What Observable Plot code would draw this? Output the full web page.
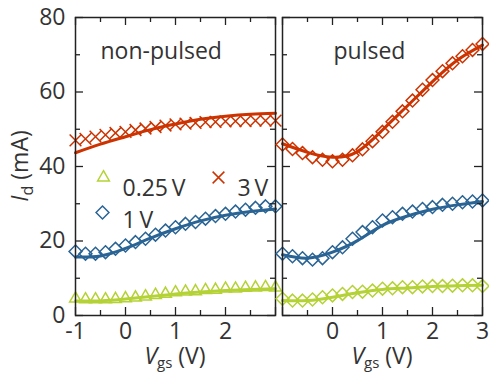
<!DOCTYPE html>
<html><head><meta charset="utf-8">
<script src="https://cdn.jsdelivr.net/npm/d3@7"></script>
<script src="https://cdn.jsdelivr.net/npm/@observablehq/plot@0.6"></script>
<style>
body{margin:0;background:#fff;}
#chart{position:relative;width:489px;height:375px;display:flex;}
#chart svg{flex:none;max-width:none !important;overflow:visible !important;background:transparent !important;}
</style></head><body><div id="chart"></div>
<script>
// ---- data ----
const vgs = [-1,-0.8,-0.6,-0.4,-0.2,0,0.2,0.4,0.6,0.8,1,1.2,1.4,1.6,1.8,2,2.2,2.4,2.6,2.8,3];
const fitV = [-1,-0.5,0,0.5,1,1.5,2,2.5,3];

// non-pulsed measured
const np025 = [4.5,4.3,4.3,4.3,4.4,4.6,4.8,5.1,5.5,5.8,6.2,6.4,6.5,6.8,6.9,7.2,7.2,7.4,7.5,7.6,7.5];
const np1   = [17.2,16.6,16.6,17.0,17.9,18.8,19.7,20.6,21.7,22.8,23.7,24.6,25.1,26.0,26.7,27.3,27.9,28.4,28.9,29.3,29.3];
const np3   = [47.0,47.4,48.0,48.5,49.0,49.3,49.8,50.2,50.6,51.0,51.3,51.5,51.7,51.9,52.0,52.1,52.2,52.2,52.3,52.3,52.3];
// non-pulsed fits
const npFit025 = [3.9,3.9,4.4,5.1,5.8,6.3,6.7,7.0,7.2];
const npFit1   = [15.7,16.0,18.0,20.8,23.3,25.4,26.9,27.9,28.6];
const npFit3   = [43.7,46.0,48.0,49.9,51.4,52.7,53.5,54.0,54.3];

// pulsed measured
const p025 = [4.5,4.0,4.0,4.3,4.9,5.4,5.8,6.3,6.4,6.7,7.2,7.3,7.6,7.6,7.8,7.9,7.9,8.0,8.1,8.1,7.9];
const p1   = [16.6,15.9,15.4,15.0,15.4,17.0,18.3,20.6,22.4,23.7,25.5,26.4,27.3,27.9,28.6,29.1,29.7,30.0,30.4,30.6,30.9];
const p3   = [45.9,44.7,43.6,42.5,41.8,41.4,41.8,43.0,44.6,46.8,49.3,52.0,54.8,57.7,60.6,63.2,65.6,67.7,69.6,71.3,72.9];
// pulsed fits
const pFit025 = [4.0,4.0,4.9,6.1,7.0,7.4,7.8,8.0,8.1];
const pFit1   = [16.3,15.4,17.0,20.1,24.2,26.7,28.5,29.7,30.6];
const pFit3   = [46.1,43.8,42.5,44.0,49.8,56.3,62.8,68.6,72.6];

const legendLabels = ["0.25\u2009V","1\u2009V","3\u2009V"];
const panelTitles = ["non-pulsed","pulsed"];
const xMajor = [-1,0,1,2,3];
const xMinor = [-0.5,0.5,1.5,2.5];
const yMajor = [0,20,40,60,80];
const yMinor = [10,30,50,70];
const xTickLabelsLeft = [-1,0,1,2];
const xTickLabelsRight = [0,1,2,3];

// ---- style ----
const H = 375, mTop = 17, mBottom = 60, frameH = H - mTop - mBottom;
const frameW = 200;
const majorLen = 8, minorLen = 5;
const red = "#cc3300", blue = "#2a6494", green = "#b4d235";
const ink = "#222", textInk = "#333";
const font = "Open Sans";

const tbl = (xs, ys) => xs.map((v, i) => ({v, i: ys[i]}));

function tickMarks() {
  const s = {stroke: ink, strokeWidth: 1.3};
  return [
    Plot.tickX(xMajor, {x: d => d, insetTop: frameH - majorLen, ...s}),
    Plot.tickX(xMajor, {x: d => d, insetBottom: frameH - majorLen, ...s}),
    Plot.tickX(xMinor, {x: d => d, insetTop: frameH - minorLen, ...s}),
    Plot.tickX(xMinor, {x: d => d, insetBottom: frameH - minorLen, ...s}),
    Plot.tickY(yMajor, {y: d => d, insetRight: frameW - majorLen, ...s}),
    Plot.tickY(yMajor, {y: d => d, insetLeft: frameW - majorLen, ...s}),
    Plot.tickY(yMinor, {y: d => d, insetRight: frameW - minorLen, ...s}),
    Plot.tickY(yMinor, {y: d => d, insetLeft: frameW - minorLen, ...s}),
    Plot.frame({stroke: ink, strokeWidth: 1.5})
  ];
}

function series(d025, d1, d3, f025, f1, f3, sym3) {
  const dotS = {x: "v", y: "i", fill: "none", strokeWidth: 1.5};
  const lineS = {x: "v", y: "i", strokeWidth: 3, curve: "natural"};
  return [
    Plot.dot(tbl(vgs, d025), {...dotS, symbol: sym3 === "times" ? "triangle2" : "diamond2", r: sym3 === "times" ? 5.6 : 5.8, stroke: green}),
    Plot.dot(tbl(vgs, d1), {...dotS, symbol: "diamond2", r: 5.8, stroke: blue}),
    Plot.dot(tbl(vgs, d3), {...dotS, symbol: sym3, r: sym3 === "times" ? 5.4 : 5.8, stroke: red}),
    Plot.line(tbl(fitV, f025), {...lineS, stroke: green}),
    Plot.line(tbl(fitV, f1), {...lineS, stroke: blue}),
    Plot.line(tbl(fitV, f3), {...lineS, stroke: red})
  ];
}

function baseOpts(width, ml, mr, marks) {
  return {
    width, height: H, marginLeft: ml, marginRight: mr, marginTop: mTop, marginBottom: mBottom,
    x: {domain: [-1, 3], axis: null},
    y: {domain: [0, 80], axis: null},
    style: {fontFamily: font, fontSize: "23px", color: textInk, background: "transparent", overflow: "visible"},
    marks
  };
}

const txt = {fill: textInk, fontSize: 23, fontFamily: font};

// left panel
const left = Plot.plot(baseOpts(278, 75, 3, [
  ...series(np025, np1, np3, npFit025, npFit1, npFit3, "times"),
  ...tickMarks(),
  Plot.axisX(xTickLabelsLeft, {tickSize: 0, tickPadding: 7, tickFormat: d => String(d), label: null, ...txt}),
  Plot.axisY(yMajor, {tickSize: 0, tickPadding: 10, tickFormat: d => String(d), label: null, ...txt}),
  Plot.text([panelTitles[0]], {text: d => d, frameAnchor: "top-left", dx: 25, dy: 25.5, textAnchor: "start", ...txt}),
  // legend
  Plot.dot([legendLabels[0]], {frameAnchor: "top-left", dx: 28, dy: 160, symbol: "triangle2", r: 5.6, stroke: green, fill: "none", strokeWidth: 1.5}),
  Plot.text([legendLabels[0]], {text: d => d, frameAnchor: "top-left", dx: 47, dy: 162.5, textAnchor: "start", ...txt}),
  Plot.dot([legendLabels[2]], {frameAnchor: "top-left", dx: 143, dy: 160, symbol: "times", r: 5.4, stroke: red, fill: "none", strokeWidth: 1.5}),
  Plot.text([legendLabels[2]], {text: d => d, frameAnchor: "top-left", dx: 162, dy: 162.5, textAnchor: "start", ...txt}),
  Plot.dot([legendLabels[1]], {frameAnchor: "top-left", dx: 27, dy: 195, symbol: "diamond2", r: 5.8, stroke: blue, fill: "none", strokeWidth: 1.5}),
  Plot.text([legendLabels[1]], {text: d => d, frameAnchor: "top-left", dx: 47, dy: 194.5, textAnchor: "start", ...txt})
]));

// right panel
const right = Plot.plot(baseOpts(211, 4, 7, [
  ...series(p025, p1, p3, pFit025, pFit1, pFit3, "diamond2"),
  ...tickMarks(),
  Plot.axisX(xTickLabelsRight, {tickSize: 0, tickPadding: 7, tickFormat: d => String(d), label: null, ...txt}),
  Plot.text([panelTitles[1]], {text: d => d, frameAnchor: "top-left", dx: 51, dy: 25.5, textAnchor: "start", ...txt})
]));

function addXLabel(svgNode, cx) {
  const t = d3.select(svgNode).append("text")
    .attr("x", cx).attr("y", 364).attr("text-anchor", "middle")
    .attr("fill", textInk).attr("font-family", font).attr("font-size", 23);
  t.append("tspan").attr("font-style", "italic").text("V");
  t.append("tspan").attr("dy", 4).attr("font-size", 15).text("gs");
  t.append("tspan").attr("dy", -4).text(" (V)");
}
function addYLabel(svgNode) {
  const t = d3.select(svgNode).append("text")
    .attr("transform", `translate(28,${mTop + frameH / 2}) rotate(-90)`)
    .attr("text-anchor", "middle")
    .attr("fill", textInk).attr("font-family", font).attr("font-size", 23);
  t.append("tspan").attr("font-style", "italic").text("I");
  t.append("tspan").attr("dy", 5).attr("font-size", 16).text("d");
  t.append("tspan").attr("dy", -5).text(" (mA)");
}
addXLabel(left, 75 + frameW / 2);
addYLabel(left);
addXLabel(right, 4 + frameW / 2);

const chart = document.getElementById("chart");
chart.appendChild(left);
chart.appendChild(right);
</script></body></html>
